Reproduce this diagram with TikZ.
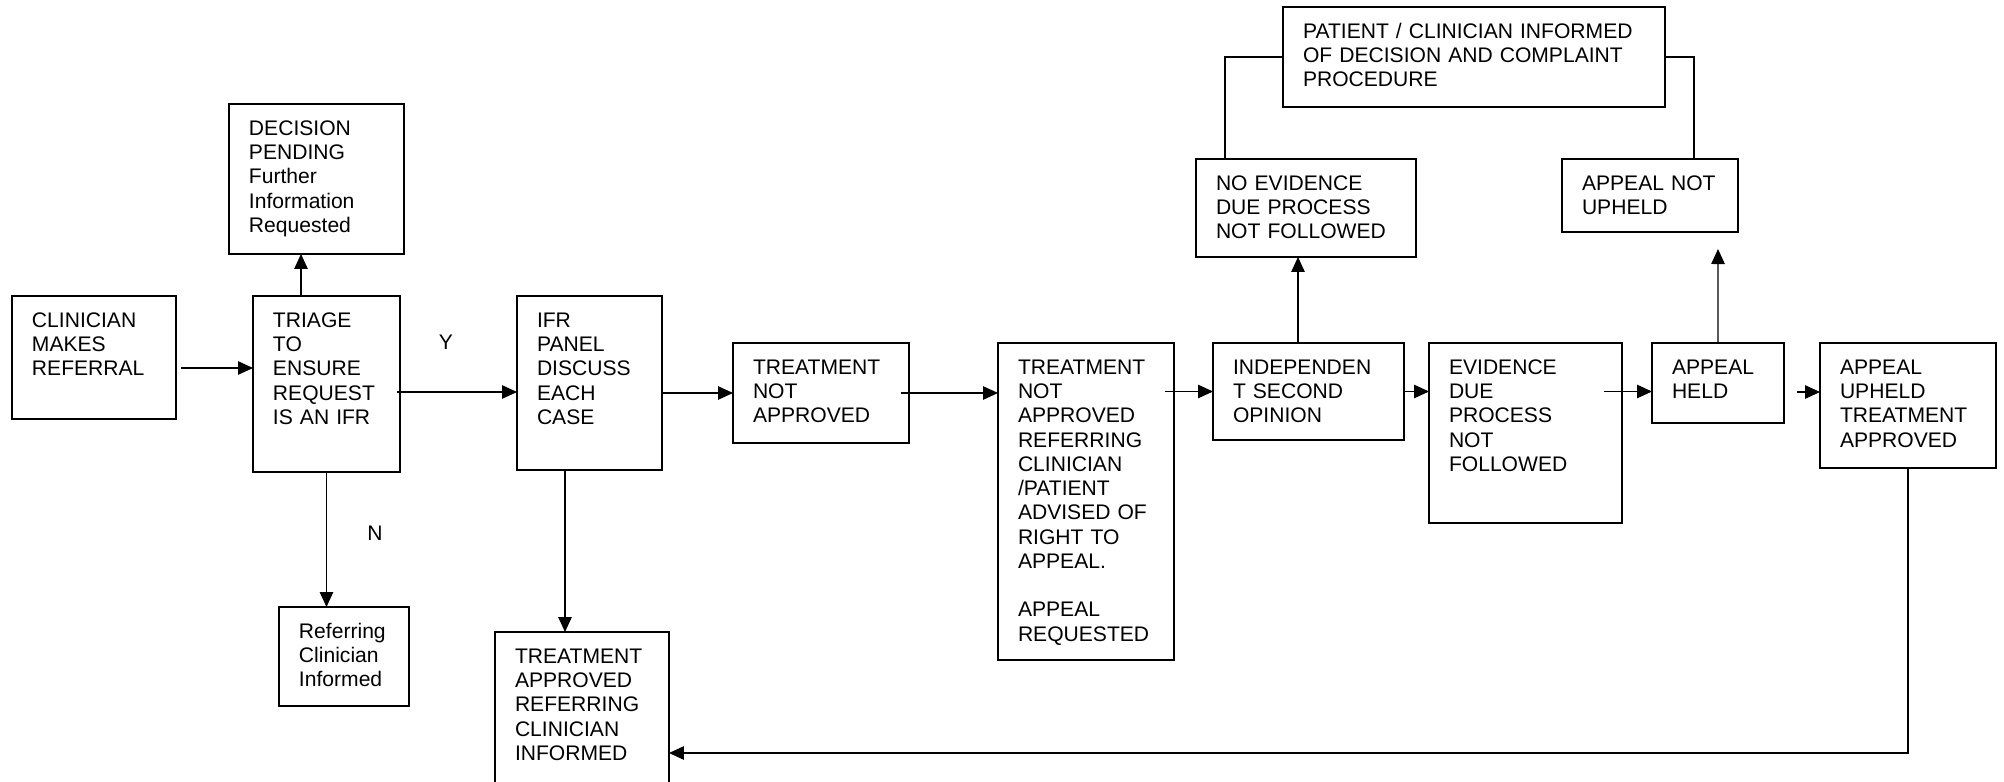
\documentclass[tikz,border=0pt]{standalone}
\usepackage{fontspec}
\setmainfont{Liberation Sans}
\usetikzlibrary{arrows.meta}

\begin{document}
\begin{tikzpicture}[
    x=0.02cm, y=-0.02cm,
    font=\fontsize{12}{13.8}\selectfont,
    box/.style 2 args={draw=black, line width=0.85pt, anchor=north west,
        align=left, inner xsep=0.4cm, inner ysep=0pt, outer sep=0pt,
        text height=0.63cm, text width=#1, text depth=#2},
    arr/.style={line width=0.6pt, -{Triangle[length=0.3cm, width=0.27cm]}},
    link/.style={line width=0.6pt}
]
    \useasboundingbox (0,0) rectangle (2004,781);
    \clip (0,0) rectangle (2004,781);
    % boxes
    \node[box={2.48cm}{1.83cm}] (clin) at (12,296) {CLINICIAN\\MAKES\\REFERRAL};
    \node[box={2.14cm}{2.89cm}] (tri) at (253,296) {TRIAGE\\TO\\ENSURE\\REQUEST\\IS AN IFR};
    \node[box={2.70cm}{2.37cm}] (dec) at (229,104) {DECISION\\PENDING\\Further\\Information\\Requested};
    \node[box={1.80cm}{1.35cm}] (ref) at (279,607) {Referring\\Clinician\\Informed};
    \node[box={2.10cm}{2.85cm}] (ifr) at (517,296) {IFR\\PANEL\\DISCUSS\\EACH\\CASE};
    \node[box={2.68cm}{3.37cm}] (tapp) at (495,632) {TREATMENT\\APPROVED\\REFERRING\\CLINICIAN\\INFORMED};
    \node[box={2.72cm}{1.37cm}] (tna) at (733,343) {TREATMENT\\NOT\\APPROVED};
    \node[box={2.72cm}{5.71cm}] (tna2) at (998,343) {TREATMENT\\NOT\\APPROVED\\REFERRING\\CLINICIAN\\/PATIENT\\ADVISED OF\\RIGHT TO\\APPEAL.\\[13.8pt]APPEAL\\REQUESTED};
    \node[box={3.02cm}{1.31cm}] (ind) at (1213,343) {INDEPENDEN\\T SECOND\\OPINION};
    \node[box={3.60cm}{1.33cm}] (noev) at (1196,159) {NO EVIDENCE\\DUE PROCESS\\NOT FOLLOWED};
    \node[box={6.84cm}{1.37cm}] (pat) at (1283,7) {PATIENT / CLINICIAN INFORMED\\OF DECISION AND COMPLAINT\\PROCEDURE};
    \node[box={3.06cm}{2.97cm}] (evid) at (1429,343) {EVIDENCE\\DUE\\PROCESS\\NOT\\FOLLOWED};
    \node[box={1.84cm}{0.97cm}] (held) at (1652,343) {APPEAL\\HELD};
    \node[box={2.72cm}{0.83cm}] (notup) at (1562,159) {APPEAL NOT\\UPHELD};
    \node[box={2.72cm}{1.87cm}] (uph) at (1820,343) {APPEAL\\UPHELD\\TREATMENT\\APPROVED};
    % labels
    \node (yes) at (446,342) {Y};
    \node (no) at (375,533) {N};
    % connectors
    \draw[arr] (clin.east |- 0,368) ++(5,0) -- (tri.west |- 0,368);
    \draw[arr] (tri.north -| 301,0) -- (dec.south -| 301,0);
    \draw[arr] (tri.east |- 0,392) ++(-3,0) -- (ifr.west |- 0,392);
    \draw[arr] (tri.south) -- (tri.south |- ref.north);
    \draw[arr] (ifr.south -| 565,0) -- (tapp.north -| 565,0);
    \draw[arr] (ifr.east |- tna.west) -- (tna.west);
    \draw[arr] (tna.east) ++(-8,0) -- (tna.east -| tna2.west);
    \draw[arr] (tna2.east |- ind.west) ++(-9,0) -- (ind.west);
    \draw[arr] (ind.north -| 1298,0) -- (noev.south -| 1298,0);
    \draw[link] (noev.north -| 1225,0) |- (pat.west);
    \draw[arr] (ind.east) -- (ind.east -| evid.west);
    \draw[arr] (evid.east |- ind.east) ++(-18,0) -- (held.west |- ind.east);
    \coordinate (upend) at (1718,249);
    \draw[arr] (held.north) -- (upend);
    \draw[link] (notup.north -| 1694,0) |- (pat.east);
    \coordinate (heldout) at (1797,392);
    \draw[arr] (heldout) -- (heldout -| uph.west);
    \draw[arr] (uph.south) |- (tapp.east |- 0,753);
\end{tikzpicture}
\end{document}
